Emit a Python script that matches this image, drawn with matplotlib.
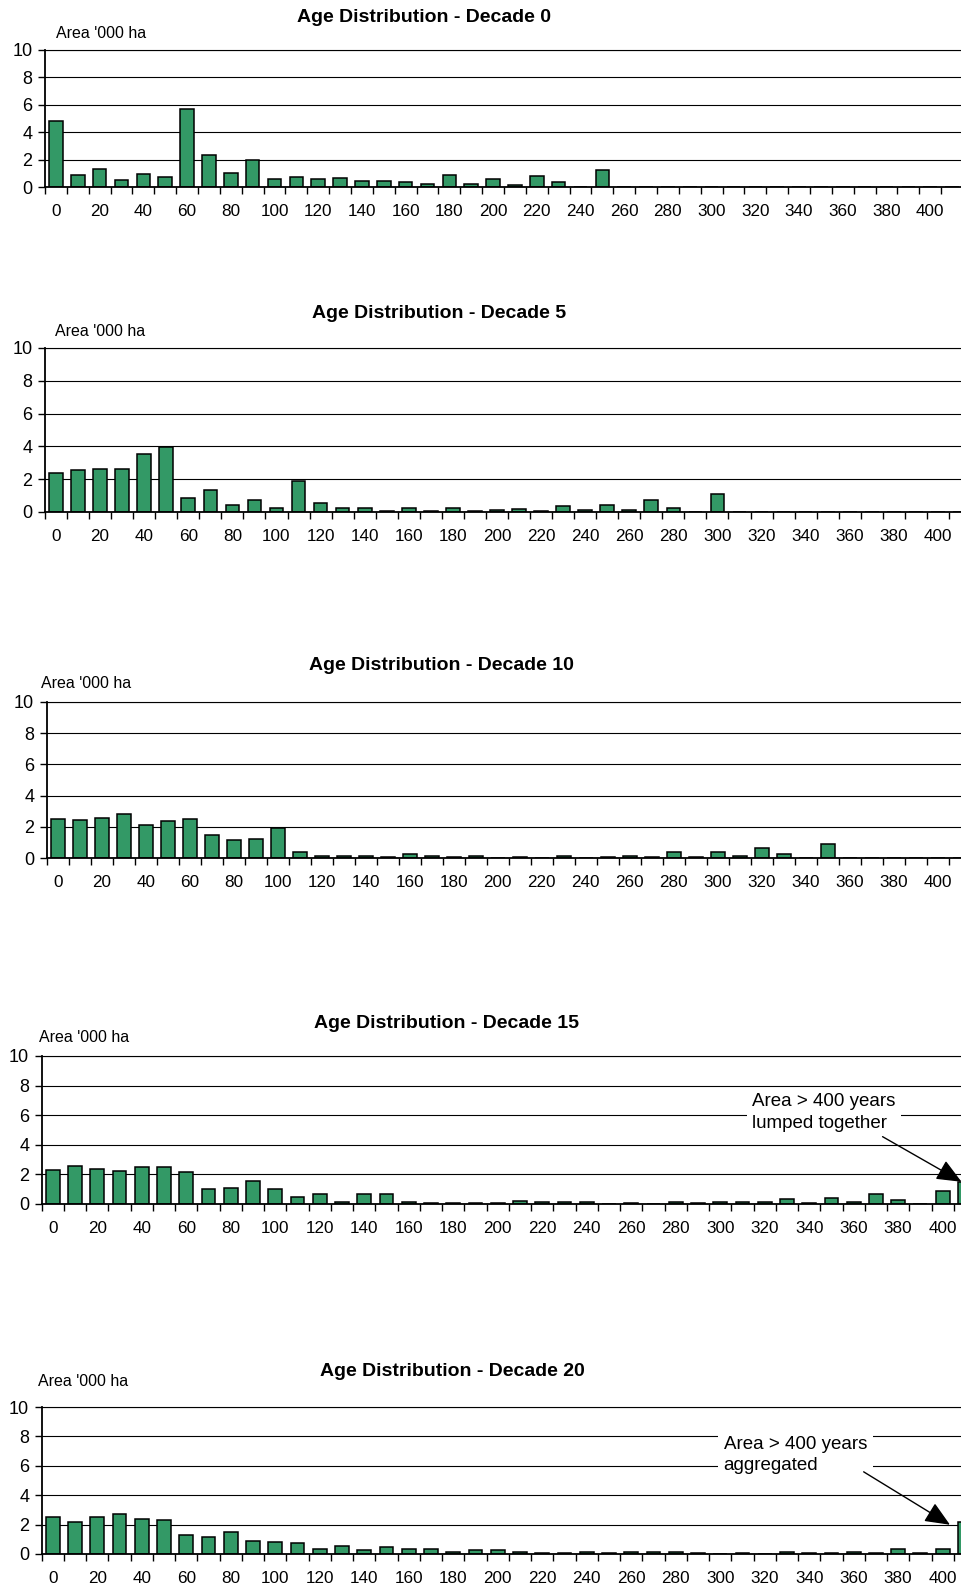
import numpy as np
import matplotlib
matplotlib.use("Agg")
import matplotlib.pyplot as plt

plt.rcParams['font.family'] = ['Liberation Sans', 'DejaVu Sans']

# Age classes in years (10-year classes, the last one holds everything > 400)
ages = list(range(0, 420, 10))
age_labels = [str(a) for a in ages[::2]]

# Area by age class, '000 ha
decade_0 = [4.85, 0.87, 1.31, 0.49, 0.95, 0.75, 5.68, 2.33, 1.04, 1.99,
            0.58, 0.73, 0.56, 0.63, 0.41, 0.46, 0.34, 0.22, 0.85, 0.25,
            0.58, 0.17, 0.80, 0.39, 0.00, 1.21, 0.00, 0.00, 0.00, 0.00,
            0.00, 0.00, 0.00, 0.00, 0.00, 0.00, 0.00, 0.00, 0.00, 0.00,
            0.00, 0.00]
decade_5 = [2.39, 2.55, 2.65, 2.63, 3.53, 3.96, 0.86, 1.33, 0.45, 0.73,
            0.27, 1.92, 0.53, 0.22, 0.24, 0.06, 0.22, 0.04, 0.22, 0.08,
            0.10, 0.18, 0.08, 0.39, 0.10, 0.43, 0.14, 0.71, 0.27, 0.00,
            1.08, 0.00, 0.00, 0.00, 0.00, 0.00, 0.00, 0.00, 0.00, 0.00,
            0.00, 0.00]
decade_10 = [2.48, 2.41, 2.59, 2.82, 2.14, 2.37, 2.52, 1.47, 1.15, 1.24,
             1.94, 0.41, 0.15, 0.15, 0.11, 0.04, 0.24, 0.15, 0.09, 0.12,
             0.00, 0.06, 0.00, 0.13, 0.02, 0.06, 0.15, 0.06, 0.41, 0.06,
             0.41, 0.13, 0.64, 0.26, 0.00, 0.92, 0.00, 0.00, 0.00, 0.00,
             0.00, 0.00]
decade_15 = [2.32, 2.59, 2.36, 2.25, 2.52, 2.48, 2.16, 1.01, 1.10, 1.55,
             1.01, 0.50, 0.68, 0.14, 0.65, 0.68, 0.16, 0.09, 0.05, 0.10,
             0.07, 0.18, 0.11, 0.11, 0.11, 0.00, 0.07, 0.00, 0.16, 0.07,
             0.11, 0.16, 0.11, 0.36, 0.07, 0.38, 0.14, 0.65, 0.25, 0.00,
             0.86, 1.50]
decade_20 = [2.55, 2.21, 2.51, 2.75, 2.39, 2.33, 1.26, 1.15, 1.47, 0.88,
             0.84, 0.77, 0.32, 0.52, 0.29, 0.50, 0.32, 0.36, 0.14, 0.27,
             0.29, 0.11, 0.07, 0.05, 0.11, 0.05, 0.16, 0.11, 0.11, 0.09,
             0.00, 0.05, 0.00, 0.14, 0.05, 0.07, 0.14, 0.07, 0.36, 0.05,
             0.36, 2.21]

titles = ["Age Distribution - Decade 0", "Age Distribution - Decade 5",
          "Age Distribution - Decade 10", "Age Distribution - Decade 15",
          "Age Distribution - Decade 20"]
series = [decade_0, decade_5, decade_10, decade_15, decade_20]
y_label = "Area '000 ha"
y_ticks = [0, 2, 4, 6, 8, 10]

W, H = 962, 1587
fig = plt.figure(figsize=(W / 100, H / 100), dpi=100)
fig.patch.set_facecolor('white')

# plot boxes in pixels: left, right, top, bottom
boxes = [(45, 963, 50, 187),
         (45, 971, 348, 512),
         (46.7, 971, 702, 858),
         (41.7, 976, 1056, 1204),
         (41.7, 976, 1407, 1554)]
title_pos = [(424, 18), (439, 314), (441, 666), (447, 1024), (452, 1371)]
ylab_pos = [(56, 34), (55, 332), (41, 683), (39, 1037), (38, 1381)]

# notes on the last (open-ended) age class
notes = {3: ("Area > 400 years\nlumped together", (31.45, 6.18), (37.3, 4.55), (40.85, 0.0)),
         4: ("Area > 400 years\naggregated", (30.15, 6.74), (36.45, 5.59), (40.33, -0.22))}

GREEN = '#339966'
x = np.arange(len(ages))

for i, (vals, title, box) in enumerate(zip(series, titles, boxes)):
    l, r, t, b = box
    ax = fig.add_axes([l / W, 1 - b / H, (r - l) / W, (b - t) / H])
    ax.set_axisbelow(True)
    ax.bar(x, vals, width=0.62, color=GREEN, edgecolor='black',
           linewidth=1.1, zorder=2)
    ax.set_xlim(-0.5, len(ages) - 0.5)
    ax.set_ylim(0, 10)

    ax.set_yticks(y_ticks)
    ax.yaxis.grid(True, color='black', linewidth=0.8)
    ax.tick_params(axis='y', direction='out', length=5, width=1.0,
                   labelsize=13, pad=4, colors='black')

    ax.set_xticks(x[::2])
    ax.set_xticklabels(age_labels)
    ax.set_xticks(np.arange(-0.5, len(ages), 1.0), minor=True)
    ax.tick_params(axis='x', which='major', length=0, pad=12.5,
                   labelsize=12.3)
    ax.tick_params(axis='x', which='minor', direction='out', length=5,
                   width=1.0)

    ax.spines['right'].set_visible(False)
    ax.spines['top'].set_linewidth(0.8)
    ax.spines['left'].set_linewidth(1.3)
    ax.spines['bottom'].set_linewidth(1.3)

    tx, ty = title_pos[i]
    fig.text(tx / W, 1 - ty / H, title, ha='center', va='center',
             fontsize=14, fontweight='bold')
    lx, ly = ylab_pos[i]
    fig.text(lx / W, 1 - ly / H, y_label, ha='left', va='center',
             fontsize=11.5)

    if i in notes:
        text, txy, start, tip = notes[i]
        ax.annotate('', xy=(tip[0], vals[-1] + tip[1]), xytext=start,
                    arrowprops=dict(arrowstyle='-|>,head_length=0.7,head_width=0.3',
                                    color='black', lw=1.0, mutation_scale=22,
                                    shrinkA=0, shrinkB=0),
                    annotation_clip=False, zorder=5)
        ax.text(txy[0], txy[1], text, ha='left', va='center', fontsize=13.5,
                linespacing=1.35, zorder=4,
                bbox=dict(boxstyle='square,pad=0.3', fc='white', ec='none'))

fig.savefig('out.png', dpi=100, facecolor='white')
